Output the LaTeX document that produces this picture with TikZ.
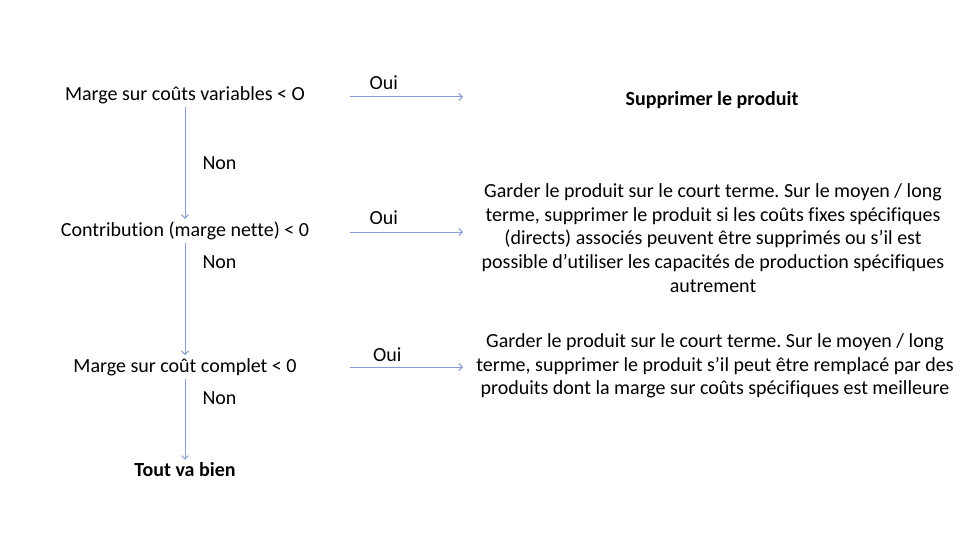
\documentclass[tikz,border=0pt]{standalone}
\usepackage{fontspec}
\setmainfont[Ligatures=NoCommon]{Carlito}
\usepackage{xcolor}
\usepackage{tikz}
\usetikzlibrary{arrows.meta, positioning}
\frenchspacing
\definecolor{arrowblue}{RGB}{136,156,216}
\tikzstyle{question} = [inner sep=3pt, text centered]
\tikzstyle{answer} = [align=center, inner sep=3pt]
\tikzstyle{arrow} = [draw=arrowblue, line width=1pt, ->]
\tikzstyle{choice} = [inner sep=2pt, text=black]

\begin{document}
\begin{tikzpicture}[x=1pt, y=1pt, >={Straight Barb[length=3.5pt,width=7pt]}, font=\fontsize{20}{23.6}\selectfont]
        \useasboundingbox[fill=white] (0,0) rectangle (960,-540);
        % Left column: questions
        \node (q1) [question] at (185,-95) {Marge sur coûts variables < O};
        \node (q2) [question] at (185,-231) {Contribution (marge nette) < 0};
        \node (q3) [question] at (185,-367) {Marge sur coût complet < 0};
        \node (ok) [question, font=\fontsize{20}{23.6}\selectfont\bfseries] at (185,-470) {Tout va bien};

        % Right column: decisions
        \node (r1) [answer, font=\fontsize{20}{23.6}\selectfont\bfseries] at (712,-100) {Supprimer le produit};
        \node (r2) [answer] at (713,-238) {Garder le produit sur le court terme. Sur le moyen / long\\
            terme, supprimer le produit si les coûts fixes spécifiques\\
            (directs) associés peuvent être supprimés ou s’il est\\
            possible d’utiliser les capacités de production spécifiques\\
            autrement};
        \node (r3) [answer] at (715,-366) {Garder le produit sur le court terme. Sur le moyen / long\\
            terme, supprimer le produit s’il peut être remplacé par des\\
            produits dont la marge sur coûts spécifiques est meilleure};

        % Ends of the Oui arrows
        \coordinate (y1s) at (350,-97);
        \coordinate (y1e) at (463,-97);
        \coordinate (y2s) at (350,-232);
        \coordinate (y2e) at (463,-232);
        \coordinate (y3s) at (350,-367);
        \coordinate (y3e) at (463,-367);

        % Arrows
        \draw[arrow] (q1.south) -- node[choice, pos=0.5, right=15pt] {Non} (q2.north);
        \draw[arrow] (q2.south) -- node[choice, pos=0.17, right=15pt] {Non} (q3.north);
        \draw[arrow] (q3.south) -- node[choice, pos=0.24, right=15pt] {Non} (ok.north);
        \draw[arrow] (y1s) -- node[choice, pos=0.3, above=5pt] {Oui} (y1e);
        \draw[arrow] (y2s) -- node[choice, pos=0.3, above=5pt] {Oui} (y2e);
        \draw[arrow] (y3s) -- node[choice, pos=0.33, above=3pt] {Oui} (y3e);
    \end{tikzpicture}
\end{document}
